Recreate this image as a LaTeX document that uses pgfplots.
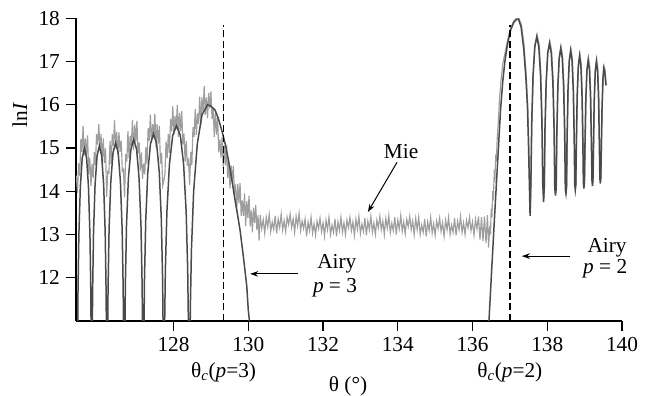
\documentclass[border=0pt]{standalone}
\usepackage{fontspec}
\setmainfont{Liberation Serif}
\usepackage{pgfplots}
\pgfplotsset{compat=1.18}
\usetikzlibrary{arrows.meta}
\definecolor{miegray}{HTML}{9E9E9E}
\definecolor{airygray}{HTML}{4A4A4A}
\begin{document}
\begin{tikzpicture}[font=\fontsize{21.3bp}{25bp}\selectfont]
\useasboundingbox (0,0) rectangle (647bp,396bp);
\begin{axis}[
 at={(76bp,75bp)}, anchor=south west,
 scale only axis, width=546bp, height=302.7bp,
 xmin=125.39, xmax=140, ymin=11, ymax=18,
 axis lines=left, axis line style={-, line width=1.1bp},
 xtick={128,130,...,140}, ytick={12,...,18},
 tick align=outside, major tick length=10bp,
 tick style={line width=1.1bp, black},
 /pgf/number format/assume math mode=true,
 xticklabel style={anchor=north, inner sep=0pt, yshift=-6.3bp},
 yticklabel style={anchor=east, inner sep=0pt, xshift=-6bp},
 clip=true,
]
% Mie (measured, noisy)
\addplot[miegray, line width=1.15bp] coordinates {
(125.40,14.36)(125.43,13.96)(125.46,14.65)(125.49,14.35)(125.52,15.21)(125.55,14.91)(125.58,15.52)(125.61,14.83)(125.64,15.22)(125.67,14.84)
(125.70,15.29)(125.73,14.39)(125.76,14.77)(125.79,14.12)(125.82,14.63)(125.85,14.31)(125.88,14.91)(125.91,14.60)(125.94,15.32)(125.97,15.08)
(126.00,15.55)(126.03,14.99)(126.06,15.32)(126.09,14.68)(126.12,15.22)(126.15,14.65)(126.18,14.99)(126.21,13.87)(126.24,14.45)(126.27,14.42)
(126.30,15.16)(126.33,14.62)(126.36,15.32)(126.39,15.05)(126.42,15.65)(126.45,14.99)(126.48,15.37)(126.51,14.85)(126.54,15.36)(126.57,14.91)
(126.60,15.17)(126.63,14.46)(126.66,14.50)(126.69,13.86)(126.72,14.86)(126.75,14.69)(126.78,15.39)(126.81,14.77)(126.84,15.28)(126.87,15.04)
(126.90,15.65)(126.93,14.95)(126.96,15.54)(126.99,15.14)(127.02,15.63)(127.05,14.87)(127.08,15.13)(127.11,14.48)(127.14,14.90)(127.17,14.28)
(127.20,14.64)(127.23,14.39)(127.26,15.02)(127.29,14.62)(127.32,15.46)(127.35,15.17)(127.38,15.78)(127.41,15.12)(127.44,15.55)(127.47,15.24)
(127.50,15.79)(127.53,15.02)(127.56,15.55)(127.59,15.10)(127.62,15.51)(127.65,14.64)(127.68,14.89)(127.71,14.13)(127.74,14.24)(127.77,14.41)
(127.80,15.15)(127.83,14.77)(127.86,15.32)(127.89,14.88)(127.92,15.67)(127.95,15.38)(127.98,15.96)(128.01,15.31)(128.04,15.74)(128.07,15.44)
(128.10,16.00)(128.13,15.25)(128.16,15.81)(128.19,15.39)(128.22,15.86)(128.25,15.08)(128.28,15.33)(128.31,14.68)(128.34,15.16)(128.37,14.59)
(128.40,14.76)(128.43,14.15)(128.46,14.91)(128.49,14.60)(128.52,15.48)(128.55,15.26)(128.58,15.90)(128.61,15.30)(128.64,15.80)(128.67,15.56)
(128.70,16.19)(128.73,15.53)(128.76,16.17)(128.79,15.84)(128.82,16.43)(128.85,15.77)(128.88,16.17)(128.91,15.69)(128.94,16.27)(128.97,15.92)
(129.00,16.31)(129.03,15.67)(129.06,15.93)(129.09,15.26)(129.12,15.83)(129.15,15.31)(129.18,15.72)(129.21,14.90)(129.24,15.20)(129.27,14.78)
(129.30,15.25)(129.33,14.54)(129.36,15.05)(129.39,14.60)(129.42,15.07)(129.45,14.31)(129.48,14.63)(129.51,14.07)(129.54,14.60)(129.57,14.21)
(129.60,14.58)(129.63,13.96)(129.66,14.16)(129.69,13.54)(129.72,14.17)(129.75,13.72)(129.78,14.19)(129.81,13.43)(129.84,13.79)(129.87,13.43)
(129.90,13.95)(129.93,13.20)(129.96,13.77)(129.99,13.38)(130.02,13.90)(130.05,13.19)(130.08,13.56)(130.11,13.05)(130.14,13.62)(130.17,13.27)
(130.20,13.68)(130.23,13.10)(130.26,13.44)(130.29,12.86)
(130.32,13.45)(130.36,13.14)(130.40,13.34)(130.44,13.03)(130.48,13.40)(130.52,13.18)(130.56,13.47)(130.60,13.07)(130.64,13.29)(130.68,13.12)
(130.72,13.43)(130.76,13.03)(130.80,13.36)(130.84,13.16)(130.88,13.47)(130.92,13.10)(130.96,13.32)(131.00,13.07)(131.04,13.40)(131.08,13.23)
(131.12,13.47)(131.16,13.16)(131.20,13.36)(131.24,13.05)(131.28,13.42)(131.32,13.20)(131.36,13.49)(131.40,13.09)(131.44,13.31)(131.48,13.14)
(131.52,13.36)(131.56,12.96)(131.60,13.29)(131.64,13.09)(131.68,13.40)(131.72,13.03)(131.76,13.25)(131.80,12.98)(131.84,13.31)(131.88,13.14)
(131.92,13.38)(131.96,13.07)(132.00,13.27)(132.04,12.96)(132.08,13.33)(132.12,13.11)(132.16,13.40)(132.20,13.00)(132.24,13.22)(132.28,13.05)
(132.32,13.36)(132.36,12.96)(132.40,13.29)(132.44,13.09)(132.48,13.40)(132.52,13.05)(132.56,13.27)(132.60,13.00)(132.64,13.33)(132.68,13.16)
(132.72,13.40)(132.76,13.09)(132.80,13.29)(132.84,12.98)(132.88,13.35)(132.92,13.13)(132.96,13.42)(133.00,13.02)(133.04,13.24)(133.08,13.07)
(133.12,13.38)(133.16,12.98)(133.20,13.31)(133.24,13.11)(133.28,13.42)(133.32,13.05)(133.36,13.27)(133.40,13.00)(133.44,13.33)(133.48,13.16)
(133.52,13.42)(133.56,13.11)(133.60,13.31)(133.64,13.00)(133.68,13.37)(133.72,13.15)(133.76,13.44)(133.80,13.04)(133.84,13.26)(133.88,13.09)
(133.92,13.40)(133.96,13.00)(134.00,13.33)(134.04,13.13)(134.08,13.44)(134.12,13.07)(134.16,13.29)(134.20,13.02)(134.24,13.35)(134.28,13.18)
(134.32,13.42)(134.36,13.11)(134.40,13.31)(134.44,13.00)(134.48,13.37)(134.52,13.11)(134.56,13.40)(134.60,13.00)(134.64,13.22)(134.68,13.05)
(134.72,13.36)(134.76,12.96)(134.80,13.29)(134.84,13.09)(134.88,13.40)(134.92,13.03)(134.96,13.25)(135.00,12.98)(135.04,13.31)(135.08,13.14)
(135.12,13.38)(135.16,13.07)(135.20,13.27)(135.24,12.96)(135.28,13.33)(135.32,13.11)(135.36,13.40)(135.40,13.00)(135.44,13.22)(135.48,13.05)
(135.52,13.38)(135.56,12.98)(135.60,13.31)(135.64,13.11)(135.68,13.42)(135.72,13.05)(135.76,13.27)(135.80,13.00)(135.84,13.33)(135.88,13.16)
(135.92,13.40)(135.96,13.09)(136.00,13.29)(136.04,12.98)(136.08,13.35)(136.12,13.13)(136.16,13.42)(136.20,12.88)(136.24,13.40)(136.28,12.85)
(136.32,13.42)(136.36,12.80)(136.40,13.45)
(136.43,12.70)(136.46,13.20)(136.48,13.00)(136.50,13.60)(136.52,13.40)(136.54,14.00)(136.56,13.90)(136.58,14.40)(136.60,14.30)(136.62,14.80)
(136.64,14.75)(136.66,15.20)(136.69,15.60)(136.72,16.10)(136.76,16.55)(136.81,16.95)(136.87,17.20)(136.94,17.50)(137.02,17.78)(137.10,17.93)
(137.17,18.00)(137.24,18.00)(137.31,17.85)(137.38,17.38)(137.44,16.65)(137.48,15.95)(137.51,15.00)(137.53,14.20)(137.55,13.50)
(137.570,14.28)(137.591,15.63)(137.627,16.73)(137.674,17.40)(137.728,17.63)(137.782,17.40)(137.829,16.73)(137.865,15.63)(137.886,14.28)(137.908,13.81)
(137.927,14.13)(137.946,15.48)(137.978,16.58)(138.020,17.25)(138.068,17.48)(138.116,17.25)(138.158,16.58)(138.190,15.48)(138.209,14.13)(138.228,13.96)
(138.245,14.11)(138.262,15.36)(138.290,16.46)(138.326,17.13)(138.368,17.36)(138.410,17.13)(138.446,16.46)(138.474,15.36)(138.491,14.11)(138.508,14.01)
(138.523,14.16)(138.538,15.31)(138.563,16.41)(138.596,17.08)(138.633,17.31)(138.671,17.08)(138.703,16.41)(138.728,15.31)(138.743,14.21)(138.758,14.09)
(138.772,14.21)(138.786,15.19)(138.809,16.29)(138.839,16.96)(138.873,17.19)(138.908,16.96)(138.937,16.29)(138.960,15.19)(138.974,14.26)(138.988,14.12)
(139.002,14.26)(139.016,15.09)(139.039,16.19)(139.069,16.86)(139.103,17.09)(139.138,16.86)(139.167,16.19)(139.190,15.09)(139.204,14.31)(139.218,14.18)
(139.231,14.31)(139.243,15.06)(139.264,16.16)(139.292,16.83)(139.323,17.06)(139.355,16.83)(139.382,16.16)(139.403,15.06)(139.415,14.36)(139.428,14.24)
(139.441,14.36)(139.453,15.01)(139.474,16.01)(139.498,16.66)(139.518,16.91)(139.538,16.86)(139.558,16.71)(139.578,16.45)
};
% Airy p = 3
\addplot[airygray, line width=1.5bp] coordinates {
(125.42,8)(125.432,10.27)(125.443,11.65)(125.467,13.0)(125.506,14.1)(125.557,14.77)(125.615,15.0)(125.674,14.77)(125.724,14.1)(125.763,13.0)(125.787,11.65)(125.798,10.27)(125.81,8)
(125.822,10.32)(125.835,11.70)(125.859,13.05)(125.900,14.15)(125.954,14.82)(126.015,15.05)(126.077,14.82)(126.130,14.15)(126.171,13.05)(126.195,11.70)(126.208,10.32)(126.22,8)
(126.234,10.39)(126.248,11.77)(126.275,13.12)(126.321,14.22)(126.381,14.89)(126.45,15.12)(126.519,14.89)(126.579,14.22)(126.625,13.12)(126.652,11.77)(126.666,10.39)(126.68,8)
(126.695,10.47)(126.711,11.85)(126.741,13.2)(126.792,14.3)(126.859,14.97)(126.935,15.2)(127.012,14.97)(127.078,14.3)(127.129,13.2)(127.159,11.85)(127.175,10.47)(127.19,8)
(127.207,10.60)(127.223,11.98)(127.256,13.33)(127.311,14.43)(127.383,15.10)(127.465,15.33)(127.548,15.10)(127.619,14.43)(127.674,13.33)(127.707,11.98)(127.724,10.60)(127.74,8)
(127.760,10.79)(127.781,12.17)(127.822,13.52)(127.890,14.62)(127.978,15.29)(128.08,15.52)(128.182,15.29)(128.270,14.62)(128.338,13.52)(128.379,12.17)(128.400,10.79)(128.42,8)
(128.449,11.27)(128.479,12.65)(128.538,14.0)(128.636,15.1)(128.763,15.77)(128.91,16.0)(129.0,15.97)(129.11,15.88)(129.2,15.68)(129.3,15.38)(129.38,15.1)(129.47,14.72)
(129.56,14.27)(129.645,13.8)(129.72,13.42)(129.78,13.1)(129.85,12.62)(129.91,12.18)(129.96,11.8)(130.0,11.25)(130.05,10.85)(130.1,10.4)
};
% Airy p = 2
\addplot[airygray, line width=1.5bp] coordinates {
(136.38,10.0)(136.44,11.0)(136.52,12.3)(136.60,13.57)(136.68,14.8)(136.75,15.88)(136.81,16.55)(136.87,17.03)(136.94,17.42)(137.02,17.73)
(137.10,17.9)(137.17,17.97)(137.23,17.98)(137.30,17.8)(137.37,17.3)(137.43,16.6)(137.47,15.95)(137.50,15.0)(137.52,14.2)(137.54,13.43)
(137.562,14.22)(137.583,15.57)(137.619,16.67)(137.666,17.34)(137.72,17.57)(137.774,17.34)(137.821,16.67)(137.857,15.57)(137.878,14.22)(137.90,13.75)
(137.919,14.07)(137.938,15.42)(137.970,16.52)(138.012,17.19)(138.06,17.42)(138.108,17.19)(138.150,16.52)(138.182,15.42)(138.201,14.07)(138.22,13.9)
(138.237,14.05)(138.254,15.3)(138.282,16.4)(138.318,17.07)(138.36,17.3)(138.402,17.07)(138.438,16.4)(138.466,15.3)(138.483,14.05)(138.50,13.95)
(138.515,14.1)(138.53,15.25)(138.555,16.35)(138.588,17.02)(138.625,17.25)(138.663,17.02)(138.695,16.35)(138.72,15.25)(138.735,14.15)(138.75,14.03)
(138.764,14.15)(138.778,15.13)(138.801,16.23)(138.831,16.90)(138.865,17.13)(138.900,16.90)(138.929,16.23)(138.952,15.13)(138.966,14.2)(138.98,14.06)
(138.994,14.2)(139.008,15.03)(139.031,16.13)(139.061,16.80)(139.095,17.03)(139.130,16.80)(139.159,16.13)(139.182,15.03)(139.196,14.25)(139.21,14.12)
(139.223,14.25)(139.235,15.0)(139.256,16.1)(139.284,16.77)(139.315,17.0)(139.347,16.77)(139.374,16.1)(139.395,15.0)(139.407,14.3)(139.42,14.18)
(139.433,14.3)(139.445,14.95)(139.466,15.95)(139.49,16.6)(139.51,16.85)(139.53,16.8)(139.55,16.65)(139.57,16.45)
};
\draw[black, line width=1.5bp, dash pattern=on 7bp off 3.5bp] (axis cs:129.34,11) -- (axis cs:129.34,17.85);
\draw[black, line width=1.5bp, dash pattern=on 7bp off 3.5bp] (axis cs:137.0,11) -- (axis cs:137.0,17.85);
\coordinate (mieT) at (axis cs:134.09,14.93);
\coordinate (mieA) at (axis cs:133.98,14.67);
\coordinate (mieB) at (axis cs:133.20,13.52);
\coordinate (a3T) at (axis cs:132.37,12.32);
\coordinate (p3T) at (axis cs:132.32,11.76);
\coordinate (a3A) at (axis cs:131.33,12.09);
\coordinate (a3B) at (axis cs:130.05,12.09);
\coordinate (a2T) at (axis cs:139.60,12.69);
\coordinate (p2T) at (axis cs:139.55,12.22);
\coordinate (a2A) at (axis cs:138.61,12.50);
\coordinate (a2B) at (axis cs:137.32,12.50);
\coordinate (c3) at (axis cs:129.34,11);
\coordinate (c2) at (axis cs:137.0,11);
\end{axis}
\node at (mieT) {Mie};
\draw[-{Stealth[length=8bp,width=5.5bp]}, line width=1bp] (mieA) -- (mieB);
\node at (a3T) {Airy};
\node at (p3T) {\textit{p} = 3};
\draw[-{Stealth[length=8bp,width=5.5bp]}, line width=1bp] (a3A) -- (a3B);
\node at (a2T) {Airy};
\node at (p2T) {\textit{p} = 2};
\draw[-{Stealth[length=8bp,width=5.5bp]}, line width=1bp] (a2A) -- (a2B);
\coordinate (cb) at (0,18.6bp);
\node[anchor=base] at (c3 |- cb) {θ\textsubscript{\textit{c}}(\textit{p}=3)};
\node[anchor=base] at (c2 |- cb) {θ\textsubscript{\textit{c}}(\textit{p}=2)};
\node[anchor=base] at (348bp,5bp) {θ (°)};
\node[rotate=90, anchor=base] at (27bp,281bp) {ln\textit{I}};
\end{tikzpicture}
\end{document}
